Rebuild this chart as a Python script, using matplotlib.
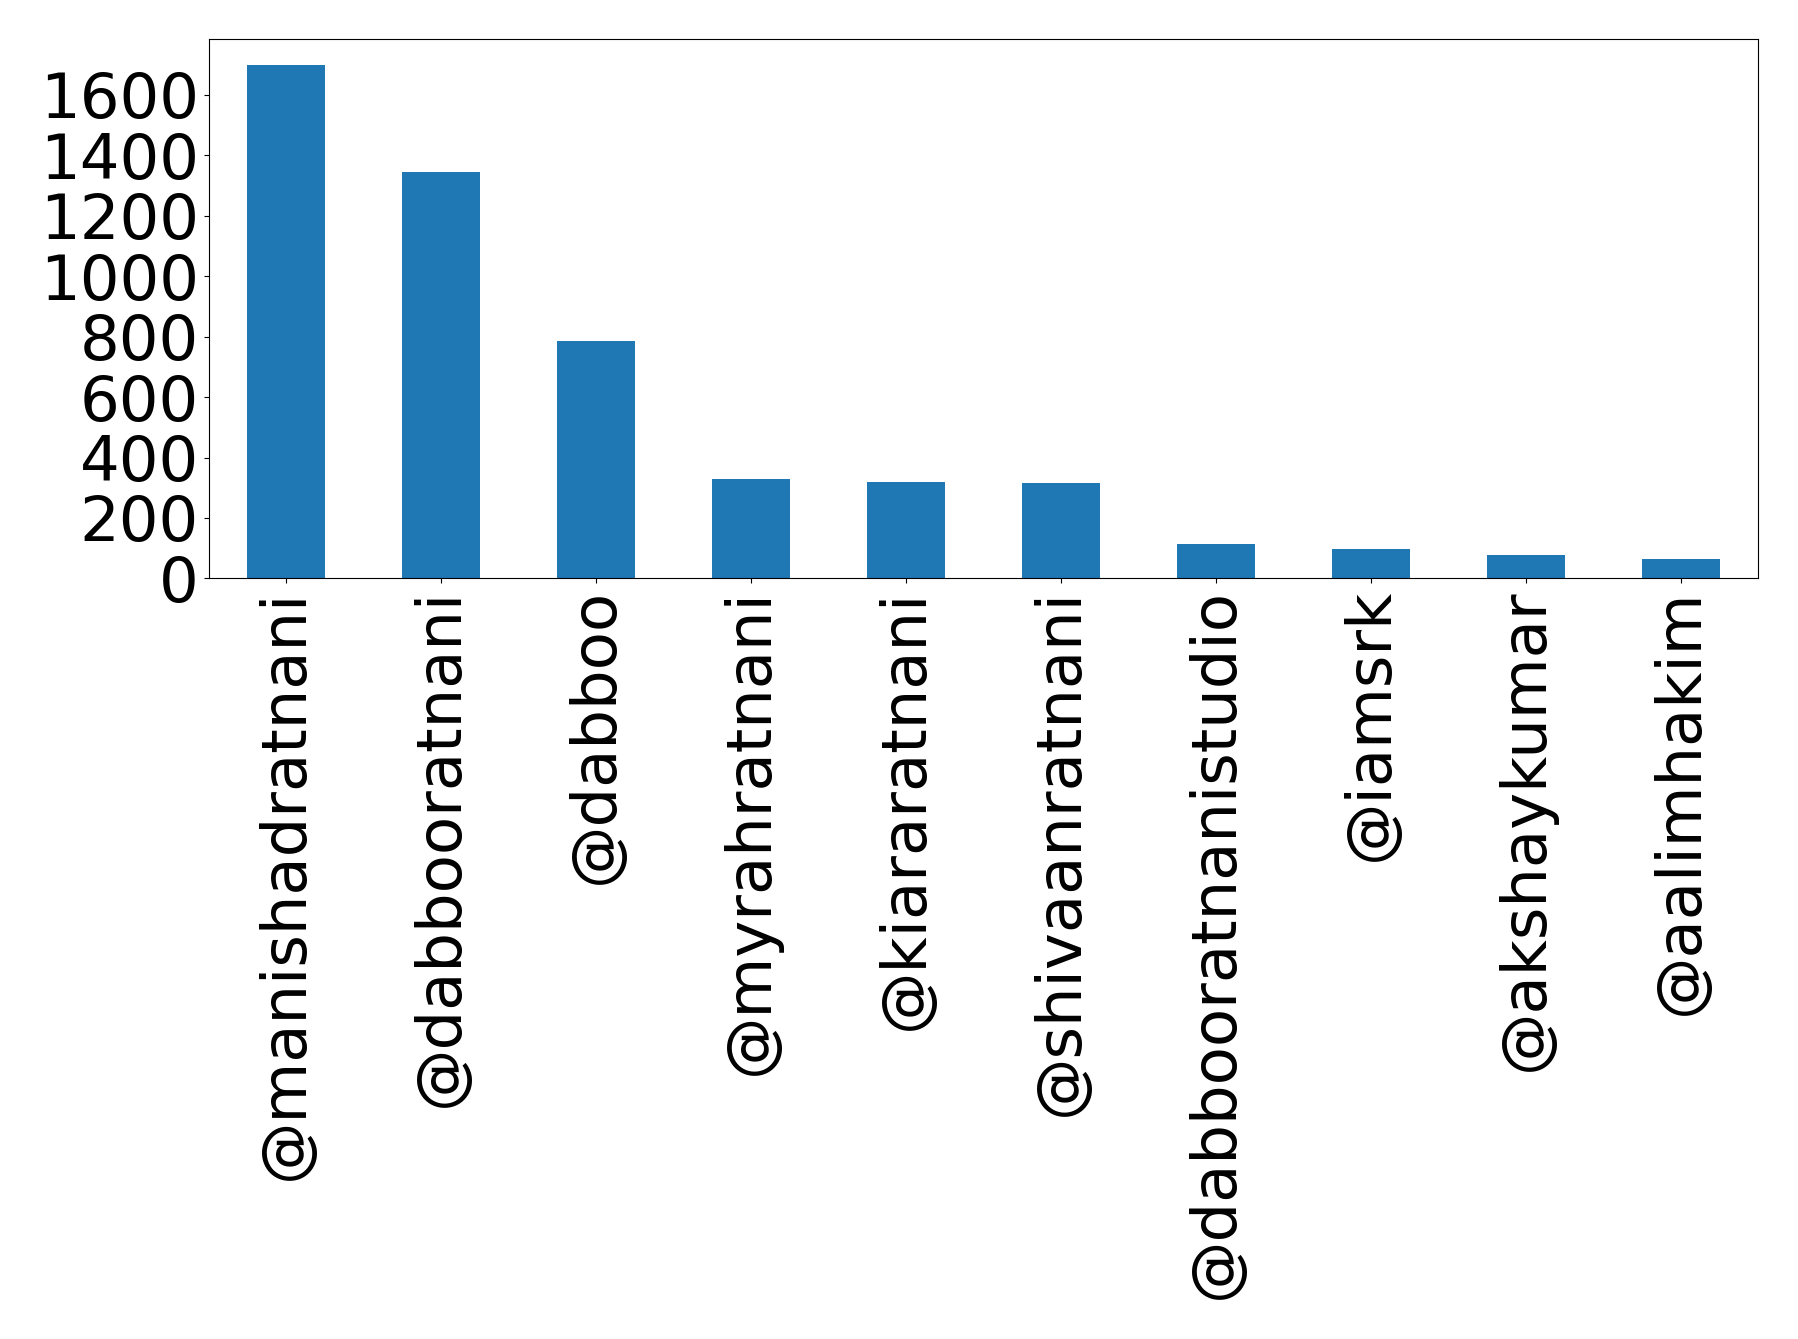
import matplotlib
matplotlib.use('Agg')
import matplotlib.pyplot as plt

# mentions, sorted by count
users = ['@manishadratnani', '@dabbooratnani', '@dabboo', '@myrahratnani',
         '@kiararatnani', '@shivaanratnani', '@dabbooratnanistudio', '@iamsrk',
         '@akshaykumar', '@aalimhakim']
counts = [1700, 1345, 786, 330, 320, 317, 113, 96, 76, 63]

fig, ax = plt.subplots(figsize=(17.98, 13.39), dpi=100)
fig.subplots_adjust(left=0.116, right=0.978, top=0.971, bottom=0.568)

x = list(range(len(users)))
ax.bar(x, counts, width=0.5, color='#1f77b4')
ax.set_xlim(-0.5, len(users) - 0.5)
ax.set_xticks(x)
ax.set_xticklabels(users, rotation=90)
ax.set_yticks(range(0, 1601, 200))
ax.tick_params(axis='both', labelsize=45)

fig.savefig('out.png', dpi=100)
